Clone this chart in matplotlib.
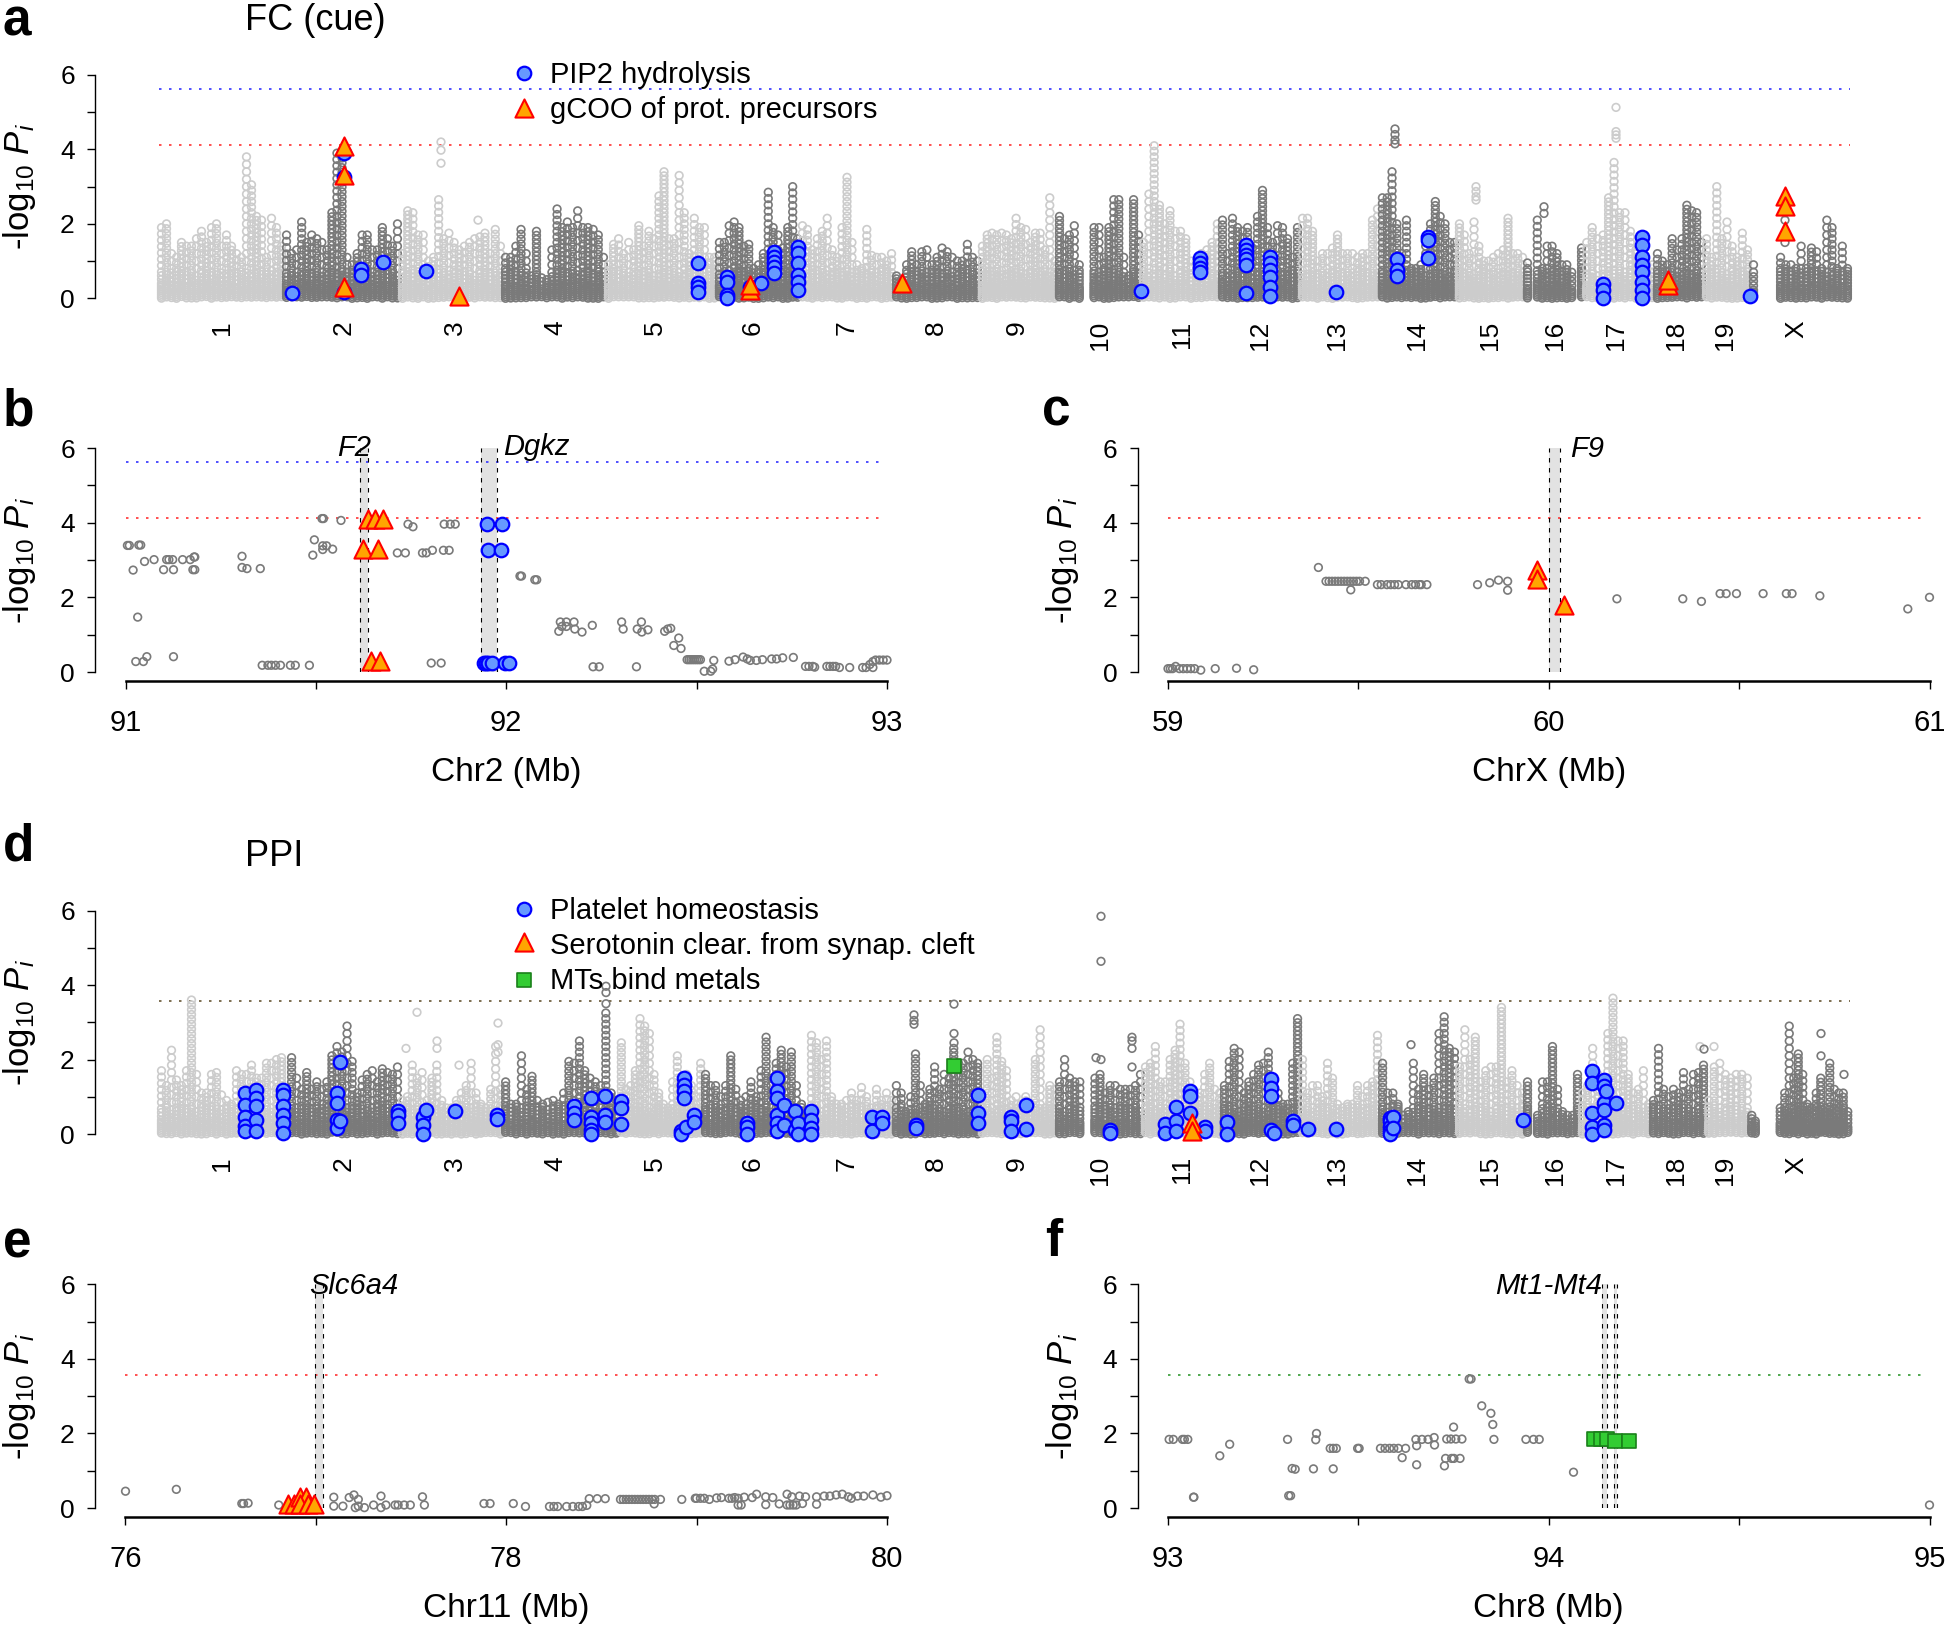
import numpy as np
import matplotlib
matplotlib.use('Agg')
import matplotlib.pyplot as plt

plt.rcParams['font.family'] = ['Liberation Sans', 'DejaVu Sans']
plt.rcParams['mathtext.fontset'] = 'custom'
plt.rcParams['mathtext.rm'] = 'Liberation Sans'
plt.rcParams['mathtext.it'] = 'Liberation Sans:italic'

W, H = 1946, 1628

chr_names = ['1', '2', '3', '4', '5', '6', '7', '8', '9', '10', '11', '12', '13', '14', '15', '16', '17', '18', '19', 'X']
chr_label_x = [222, 344, 455, 555, 655, 753, 847, 936, 1017, 1100, 1182, 1260, 1337, 1417, 1490, 1555, 1616, 1676, 1725, 1796]

# panel a: peak height of each column along every chromosome.
# single SNPs in the solid part can't be read, so rings get stacked under each peak
a_edges = [(159, 284), (284, 400), (400, 503), (503, 606), (606, 717), (717, 800), (800, 894), (894, 980), (980, 1057),
           (1057, 1141), (1141, 1220), (1220, 1300), (1300, 1380), (1380, 1457), (1457, 1525), (1525, 1584),
           (1584, 1655), (1655, 1704), (1704, 1750), (1750, 1757), (1778, 1850)]
a_shade = [0, 1, 0, 1, 0, 1, 0, 1, 0, 1, 0, 1, 0, 1, 0, 1, 0, 1, 0, 1, 1]
a_c1 = [1.9, 2.0, 1.2, 1.1, 1.5, 1.4, 1.4, 1.6, 1.8, 1.5, 1.9, 2.0, 1.4, 1.7, 1.4, 1.2, 1.1, 3.8, 3.05, 2.2, 2.1, 1.1, 2.15, 1.9, 1.4]
a_c2 = [1.7, 1.2, 1.3, 2.05, 1.5, 1.7, 1.6, 1.5, 1.3, 2.3, 3.9, 3.9, 1.1, 0.9, 1.2, 1.7, 1.7, 1.3, 1.3, 1.9, 1.6, 1.4, 2.0]
a_c3 = [1.2, 2.35, 2.3, 1.7, 1.7, 1.0, 1.1, 2.65, 1.6, 1.75, 1.5, 1.3, 1.4, 1.5, 1.6, 1.65, 1.75, 1.2, 1.85, 1.4]
a_c4 = [1.1, 1.1, 1.4, 1.85, 1.2, 0.6, 1.8, 0.55, 0.5, 1.3, 2.4, 1.9, 2.05, 1.9, 2.35, 1.9, 1.9, 1.85, 1.7, 1.1]
a_c5 = [0.9, 1.45, 1.6, 1.2, 1.5, 1.3, 1.95, 1.4, 1.8, 1.6, 2.75, 3.4, 1.6, 1.6, 3.3, 2.3, 1.2, 2.15, 1.9, 1.9, 1.1, 1.1]
a_c6 = [1.5, 1.5, 1.95, 2.05, 1.9, 1.4, 1.45, 0.8, 0.9, 1.2, 2.85, 1.9, 1.7, 1.35, 1.9, 3.0, 1.6]
a_c7 = [1.95, 1.85, 1.3, 1.6, 1.8, 2.15, 1.3, 1.1, 1.9, 3.25, 1.5, 0.9, 0.8, 1.85, 1.15, 1.1, 1.1, 1.0, 1.2]
a_c8 = [0.6, 0.5, 0.9, 1.25, 0.9, 1.25, 1.3, 0.9, 1.1, 1.35, 1.25, 1.1, 1.0, 1.0, 1.45, 1.1, 1.0]
a_c9 = [1.4, 1.7, 1.75, 1.7, 1.75, 1.7, 1.6, 2.15, 1.9, 1.85, 1.5, 1.75, 1.75, 1.3, 2.7, 1.0]
a_c10 = [2.2, 1.6, 1.7, 1.95, 0.9, 0, 0, 1.9, 1.9, 1.1, 1.9, 2.65, 2.65, 1.1, 0.6, 2.65, 1.7]
a_c11 = [1.5, 2.8, 4.1, 2.5, 2.0, 2.35, 1.8, 1.8, 1.6, 1.0, 1.0, 1.2, 1.3, 1.5, 2.0]
a_c12 = [2.1, 1.2, 2.15, 1.9, 1.8, 1.9, 1.35, 2.2, 2.9, 1.9, 1.5, 1.95, 1.9, 1.6, 1.1, 1.9]
a_c13 = [2.15, 2.15, 1.8, 1.0, 1.2, 1.2, 1.35, 1.7, 1.2, 1.2, 1.2, 1.1, 1.2, 1.2, 2.1, 2.4]
a_c14 = [2.7, 2.7, 3.4, 2.0, 1.2, 2.1, 0.8, 0.8, 0.9, 1.6, 2.0, 2.6, 2.2, 2.0, 1.5, 1.5]
a_c15 = [2.0, 1.7, 1.2, 2.05, 1.4, 1.0, 1.0, 1.1, 1.2, 1.3, 2.15, 1.2, 1.2, 1.1]
a_c16 = [0.95, 0, 2.1, 0.8, 1.4, 1.4, 1.2, 0.9, 0.9, 0.7, 0, 1.35]
a_c17 = [1.5, 1.9, 1.6, 1.7, 2.7, 3.65, 2.3, 2.3, 1.8, 1.3, 1.0, 0.9, 0.9]
a_c18 = [1.2, 1.0, 0.9, 1.6, 1.3, 1.6, 2.5, 2.35, 2.3, 1.5]
a_c19 = [1.6, 1.1, 3.0, 1.6, 2.05, 1.4, 1.1, 1.75, 1.3]
a_c19b = [0.9]
a_cX = [1.1, 0.9, 0.9, 0.8, 1.4, 0.8, 1.35, 1.25, 0.8, 2.1, 1.9, 0.8, 1.4, 0.8]
a_heights = [a_c1, a_c2, a_c3, a_c4, a_c5, a_c6, a_c7, a_c8, a_c9, a_c10, a_c11, a_c12, a_c13, a_c14, a_c15, a_c16,
             a_c17, a_c18, a_c19, a_c19b, a_cX]

# points standing clear of the columns
a_light_x = [441, 441, 441, 478, 1476, 1476, 1476, 1476, 1616, 1616, 1616, 1616]
a_light_y = [4.2, 3.98, 3.63, 2.1, 3.0, 2.87, 2.73, 2.64, 5.13, 4.48, 4.39, 4.3]
a_dark_x = [1395, 1395, 1395, 1395, 1544, 1544, 1785, 1785, 1785]
a_dark_y = [4.55, 4.4, 4.25, 4.15, 2.46, 2.28, 2.3, 2.1, 1.5]

a_blue_x = [292, 344, 361, 383, 426, 698, 727, 750, 761, 774, 798, 1141, 1200, 1246, 1270, 1336, 1397, 1428, 1603, 1642, 1750]
a_blue_y = [[0.15], [3.91, 3.27, 0.17], [0.78, 0.63], [0.98], [0.74], [0.94, 0.40, 0.31, 0.18], [0.58, 0.45, 0.09, 0.0],
            [0.3], [0.42], [1.25, 1.12, 0.98, 0.85, 0.67], [1.39, 1.21, 0.94, 0.63, 0.45, 0.22], [0.2],
            [1.07, 0.94, 0.81, 0.72], [1.43, 1.3, 1.16, 1.05, 0.9, 0.13], [1.12, 0.94, 0.76, 0.58, 0.31, 0.06], [0.18],
            [1.05, 0.76, 0.6], [1.66, 1.57, 1.07], [0.38, 0.22, 0.0], [1.66, 1.43, 1.12, 0.9, 0.72, 0.45, 0.22, 0.0], [0.05]]
a_tri_x = [344, 344, 344, 459, 750, 750, 902, 1668, 1668, 1785, 1785, 1785]
a_tri_y = [4.1, 3.31, 0.3, 0.06, 0.22, 0.36, 0.4, 0.36, 0.5, 2.75, 2.48, 1.81]

# panel d
d_edges = [(159, 284), (284, 400), (400, 503), (503, 619), (619, 703), (703, 809), (809, 894), (894, 980), (980, 1057),
           (1057, 1143), (1143, 1222), (1222, 1300), (1300, 1380), (1380, 1457), (1457, 1525), (1525, 1580),
           (1580, 1651), (1651, 1706), (1706, 1750), (1750, 1757), (1778, 1850)]
d_c1 = [1.7, 1.3, 2.25, 1.45, 1.3, 1.7, 3.6, 1.6, 1.1, 1.1, 1.6, 1.65, 1.05, 0.9, 0.8, 1.7, 1.6, 1.6, 1.85, 1.5, 1.5, 1.9, 1.9, 2.0, 2.05]
d_c2 = [1.15, 2.05, 1.5, 1.2, 1.65, 1.2, 1.4, 1.2, 1.4, 2.1, 2.35, 2.2, 2.9, 1.95, 1.1, 1.45, 1.6, 1.7, 1.4, 1.75, 1.65, 1.6, 1.8]
d_c3 = [0.9, 1.0, 1.85, 1.5, 1.65, 0.9, 1.5, 1.85, 0.9, 0.7, 0.7, 0.9, 1.1, 1.3, 1.9, 1.1, 0.8, 0.7, 1.2, 2.35, 1.2]
d_c4 = [1.4, 0.8, 0.8, 2.1, 1.2, 1.55, 0.9, 0.8, 0.85, 0.9, 0.8, 1.1, 1.95, 1.9, 2.5, 1.7, 1.5, 1.4, 1.3, 3.25, 1.1, 0.9]
d_c5 = [2.45, 1.2, 1.3, 1.7, 3.1, 2.9, 2.7, 1.6, 1.1, 0.8, 0.7, 1.4, 2.1, 1.4, 1.6, 1.3, 1.0, 1.9]
d_c6 = [1.6, 1.3, 1.3, 1.0, 1.3, 2.1, 1.2, 0.9, 1.0, 1.4, 1.0, 1.7, 2.6, 1.5, 1.9, 2.25, 1.8, 2.2, 1.3, 0.8, 0.6]
d_c7 = [2.65, 2.45, 2.0, 2.5, 1.0, 0.8, 0.8, 0.9, 1.1, 0.9, 1.25, 1.0, 0.7, 1.2, 0.9, 1.1, 0.9]
d_c8 = [1.3, 1.1, 0.6, 1.0, 2.15, 1.3, 0.8, 1.2, 1.8, 1.2, 1.6, 1.5, 2.3, 1.9, 1.9, 2.2, 2.0, 1.9]
d_c9 = [0.9, 2.0, 1.5, 2.6, 1.95, 1.7, 0.9, 1.0, 0.8, 1.0, 0.8, 2.0, 2.8, 0.7, 1.3, 1.2]
d_c10 = [1.4, 2.0, 1.5, 1.4, 1.4, 0, 0, 1.5, 1.6, 1.1, 1.3, 1.3, 1.2, 1.2, 1.2, 1.3, 1.6]
d_c11 = [1.8, 1.9, 2.35, 1.4, 1.4, 2.0, 2.25, 2.95, 1.9, 1.4, 1.0, 1.1, 1.6, 1.9, 1.2, 1.1]
d_c12 = [1.3, 1.95, 2.3, 2.2, 1.1, 1.4, 1.6, 1.85, 1.9, 2.2, 1.1, 1.1, 0.8, 0.8, 1.9, 3.1]
d_c13 = [2.0, 1.1, 1.3, 1.3, 1.0, 1.9, 1.5, 0.8, 0.7, 0.8, 0.8, 1.3, 1.0, 1.3, 1.4, 2.65]
d_c14 = [1.9, 1.1, 1.1, 0.8, 0.5, 0.6, 1.9, 1.2, 1.6, 1.2, 1.5, 2.7, 3.15, 2.3, 2.2]
d_c15 = [1.8, 2.8, 2.0, 2.6, 1.4, 1.7, 1.8, 1.8, 3.4, 1.4, 1.7, 1.3, 1.1]
d_c16 = [1.4, 0, 0.5, 1.4, 1.4, 2.35, 1.2, 0.6, 0.5, 0.5, 1.6]
d_c17 = [1.1, 1.3, 2.3, 1.6, 1.3, 2.7, 3.65, 2.5, 2.5, 1.6, 1.1, 1.2, 1.7, 0.8]
d_c18 = [0.9, 2.3, 1.2, 1.0, 1.2, 1.1, 1.65, 1.2, 1.6, 1.65, 1.85]
d_c19 = [0.9, 1.8, 1.9, 1.6, 1.5, 1.6, 1.6, 1.5]
d_c19b = [0.5, 0.35]
d_cX = [0.7, 1.1, 2.9, 1.5, 2.15, 1.6, 0.8, 0.7, 1.1, 1.5, 0.7, 1.9, 1.2, 1.1, 1.1, 0.6]
d_heights = [d_c1, d_c2, d_c3, d_c4, d_c5, d_c6, d_c7, d_c8, d_c9, d_c10, d_c11, d_c12, d_c13, d_c14, d_c15, d_c16,
             d_c17, d_c18, d_c19, d_c19b, d_cX]
d_light_x = [417, 406, 437, 437, 459, 498, 498, 498, 1714, 1700]
d_light_y = [3.27, 2.3, 2.5, 2.3, 1.85, 2.98, 2.4, 2.2, 2.35, 2.35]
d_dark_x = [1101, 1101, 606, 606, 606, 954, 954, 954, 914, 914, 914, 1132, 1132, 1132, 1132, 1096, 1101, 1821, 1821, 1844, 1704, 1411]
d_dark_y = [5.85, 4.64, 3.97, 3.8, 3.5, 3.49, 2.7, 2.45, 3.2, 3.05, 2.95, 2.6, 2.5, 2.3, 1.8, 2.05, 2.0, 2.7, 2.1, 1.6, 2.28, 2.4]

d_blue_x = [245, 256, 283, 337, 340, 398, 423, 426, 455, 497, 574, 591, 605, 621, 684, 681, 686, 694, 747, 777, 784, 795,
            798, 811, 872, 882, 916, 978, 1011, 1026, 1110, 1165, 1176, 1190, 1205, 1227, 1271, 1274, 1293, 1308, 1336,
            1390, 1393, 1523, 1592, 1604, 1606, 1616]
d_blue_y = [[1.10, 0.79, 0.47, 0.21, 0.07], [1.19, 0.97, 0.74, 0.38, 0.07], [1.19, 1.06, 0.74, 0.5, 0.3, 0.03],
            [1.1, 0.83, 0.38, 0.16], [1.93, 0.36], [0.61, 0.52, 0.3], [0.47, 0.25, 0.0], [0.65], [0.63], [0.52, 0.4],
            [0.74, 0.56, 0.38], [0.97, 0.47, 0.3, 0.12, 0.0], [1.03, 0.52, 0.31], [0.88, 0.7, 0.27], [1.5, 1.32, 1.15, 0.97],
            [0.07, 0.0], [0.2], [0.52, 0.31], [0.3, 0.2, 0.0], [1.5, 1.15, 0.97, 0.52, 0.3, 0.07], [0.79, 0.25], [0.63, 0.12],
            [0.3, 0.0], [0.61, 0.38, 0.16, 0.0], [0.47, 0.07], [0.47, 0.3], [0.25, 0.16], [1.06, 0.56, 0.3],
            [0.47, 0.34, 0.07], [0.77, 0.14], [0.12, 0.03], [0.27, 0.03], [0.72, 0.34, 0.07], [1.15, 1.01, 0.56], [0.2, 0.09],
            [0.31, 0.01], [1.48, 1.24, 1.01, 0.12], [0.04], [0.34, 0.23], [0.14], [0.14], [0.43, 0.34, 0.2, 0.07, 0.0],
            [0.47, 0.16], [0.38], [1.7, 1.37, 0.56, 0.2, 0.0], [1.46, 1.28, 0.83, 0.65, 0.25, 0.12], [1.15], [0.83]]
d_tri_x = [1192, 1192]
d_tri_y = [0.3, 0.09]
d_sq_x = [954]
d_sq_y = [1.84]

# panel b
b_x = [91.005, 91.01, 91.035, 91.04, 91.02, 91.05, 91.075, 91.10, 91.108, 91.114, 91.124, 91.126, 91.15, 91.17, 91.18, 91.182,
       91.177, 91.182, 91.306, 91.306, 91.319, 91.354, 91.032, 91.027, 91.047, 91.056, 91.126, 91.359, 91.374, 91.383, 91.394,
       91.407, 91.433, 91.446, 91.483, 91.516, 91.52, 91.566, 91.496, 91.518, 91.528, 91.544, 91.518, 91.492, 91.714, 91.735,
       91.78, 91.79, 91.806, 91.835, 91.85, 91.742, 91.755, 91.837, 91.853, 91.866, 91.803, 91.829, 92.036, 92.04, 92.075, 92.08,
       92.138, 92.142, 92.146, 92.158, 92.158, 92.178, 92.18, 92.199, 92.226, 92.303, 92.307, 92.355, 92.344, 92.356, 92.372,
       92.416, 92.424, 92.432, 92.453, 92.44, 92.459, 92.228, 92.244, 92.342, 92.475, 92.48, 92.485, 92.49, 92.495, 92.5, 92.505,
       92.51, 92.52, 92.537, 92.542, 92.545, 92.585, 92.601, 92.622, 92.633, 92.641, 92.657, 92.673, 92.697, 92.71, 92.726, 92.754,
       92.786, 92.795, 92.805, 92.81, 92.842, 92.85, 92.858, 92.865, 92.875, 92.902, 92.936, 92.945, 92.963, 92.955, 92.963, 92.97,
       92.98, 92.99, 93.0]
b_y = [3.39, 3.39, 3.40, 3.40, 2.73, 2.96, 3.01, 2.74, 3.01, 3.01, 3.01, 2.74, 3.01, 3.01, 3.08, 3.08,
       2.74, 2.74, 3.10, 2.80, 2.77, 2.77, 1.47, 0.28, 0.28, 0.41, 0.41, 0.18, 0.18, 0.18, 0.18,
       0.18, 0.18, 0.18, 0.18, 4.11, 4.11, 4.06, 3.54, 3.38, 3.38, 3.29, 3.28, 3.13, 3.19, 3.19,
       3.19, 3.19, 3.26, 3.26, 3.26, 3.96, 3.89, 3.96, 3.96, 3.96, 0.24, 0.24, 2.57, 2.57, 2.47, 2.47,
       1.09, 1.34, 1.22, 1.34, 1.22, 1.34, 1.15, 1.07, 1.25, 1.34, 1.15, 1.34, 1.15, 1.07, 1.13,
       1.09, 1.15, 1.17, 0.91, 0.71, 0.63, 0.14, 0.14, 0.14, 0.33, 0.33, 0.33, 0.33, 0.33, 0.33, 0.33,
       0.33, 0.02, 0.02, 0.08, 0.31, 0.29, 0.33, 0.40, 0.35, 0.31, 0.31, 0.33, 0.35, 0.35, 0.38, 0.39,
       0.15, 0.15, 0.15, 0.13, 0.15, 0.15, 0.15, 0.15, 0.12, 0.12, 0.12, 0.12, 0.12, 0.2, 0.28, 0.32,
       0.32, 0.32, 0.32]
b_tri_x = [91.636, 91.656, 91.676, 91.624, 91.663, 91.644, 91.668]
b_tri_y = [4.1, 4.1, 4.1, 3.3, 3.3, 0.3, 0.3]
b_blue_x = [91.949, 91.99, 91.953, 91.985, 91.941, 91.947, 91.953, 91.962, 91.998, 92.006]
b_blue_y = [3.97, 3.97, 3.26, 3.26, 0.24, 0.24, 0.24, 0.24, 0.24, 0.24]

# panel c
c_x = [59.395, 59.415, 59.423, 59.431, 59.439, 59.447, 59.455, 59.463, 59.471, 59.479, 59.487, 59.495, 59.503, 59.518, 59.48,
       59.55, 59.56, 59.575, 59.585, 59.595, 59.605, 59.625, 59.64, 59.65, 59.66, 59.665, 59.68, 59.813, 59.845, 59.868, 59.892,
       59.892, 60.179, 60.352, 60.401, 60.45, 60.466, 60.493, 60.563, 60.624, 60.639, 60.712, 60.943, 61.0, 59.0, 59.006, 59.012,
       59.02, 59.03, 59.04, 59.05, 59.06, 59.07, 59.086, 59.124, 59.18, 59.225]
c_y = [2.80, 2.43, 2.43, 2.43, 2.43, 2.43, 2.43, 2.43, 2.43, 2.43, 2.43, 2.43, 2.43, 2.43, 2.2,
       2.34, 2.34, 2.34, 2.34, 2.34, 2.34, 2.34, 2.34, 2.34, 2.34, 2.34, 2.34, 2.34, 2.39, 2.46, 2.43,
       2.19, 1.96, 1.96, 1.89, 2.10, 2.10, 2.10, 2.10, 2.10, 2.10, 2.04, 1.69, 2.0, 0.09, 0.09, 0.09,
       0.15, 0.09, 0.09, 0.09, 0.09, 0.09, 0.05, 0.09, 0.1, 0.06]
c_tri_x = [59.968, 59.968, 60.041]
c_tri_y = [2.74, 2.5, 1.8]

# panel e
e_x = [76.0, 76.267, 76.611, 76.62, 76.644, 76.805, 77.094, 77.175, 77.2, 77.223, 77.094, 77.142, 77.207, 77.255, 77.223, 77.342,
       77.303, 77.342, 77.368, 77.416, 77.432, 77.464, 77.496, 77.56, 77.57, 77.883, 77.915, 78.037, 78.101, 78.227, 78.25, 78.27,
       78.317, 78.35, 78.38, 78.4, 78.423, 78.436, 78.478, 78.52, 78.6, 78.615, 78.63, 78.645, 78.66, 78.675, 78.69, 78.705, 78.72,
       78.735, 78.75, 78.765, 78.78, 78.81, 78.777, 78.922, 78.993, 79.0, 79.02, 79.04, 79.067, 79.105, 79.13, 79.17, 79.186, 79.2,
       79.218, 79.25, 79.218, 79.234, 79.292, 79.315, 79.363, 79.4, 79.363, 79.434, 79.475, 79.49, 79.507, 79.523, 79.556, 79.475,
       79.50, 79.54, 79.572, 79.63, 79.63, 79.67, 79.70, 79.733, 79.765, 79.797, 79.813, 79.845, 79.878, 79.926, 79.968, 80.0]
e_y = [0.45, 0.5, 0.12, 0.12, 0.13, 0.08, 0.29, 0.28, 0.35, 0.23, 0.05, 0.05, 0.01, 0.01, 0.05, 0.32,
       0.08, 0.01, 0.08, 0.08, 0.08, 0.08, 0.08, 0.30, 0.08, 0.12, 0.12, 0.12, 0.04, 0.04, 0.04, 0.04,
       0.04, 0.04, 0.04, 0.04, 0.07, 0.25, 0.25, 0.25, 0.23, 0.23, 0.23, 0.23, 0.23, 0.23, 0.23, 0.23, 0.23,
       0.23, 0.23, 0.23, 0.23, 0.23, 0.11, 0.23, 0.26, 0.26, 0.26, 0.26, 0.23, 0.27, 0.28, 0.26, 0.26, 0.28,
       0.26, 0.29, 0.08, 0.08, 0.28, 0.37, 0.30, 0.28, 0.09, 0.11, 0.08, 0.08, 0.08, 0.08, 0.12, 0.37,
       0.30, 0.32, 0.30, 0.10, 0.30, 0.32, 0.32, 0.35, 0.37, 0.30, 0.26, 0.32, 0.32, 0.35, 0.29, 0.33]
e_tri_x = [76.853, 76.885, 76.917, 76.95, 76.917, 76.96, 76.988]
e_tri_y = [0.1, 0.1, 0.3, 0.3, 0.1, 0.1, 0.1]

# panel f
f_x = [93.003, 93.014, 93.038, 93.043, 93.052, 93.136, 93.162, 93.067, 93.068, 93.314, 93.317, 93.322, 93.326, 93.334, 93.382,
       93.39, 93.388, 93.434, 93.426, 93.434, 93.442, 93.498, 93.502, 93.558, 93.57, 93.582, 93.593, 93.605, 93.624, 93.615, 93.651,
       93.667, 93.683, 93.653, 93.653, 93.699, 93.70, 93.732, 93.743, 93.756, 93.772, 93.726, 93.729, 93.745, 93.751, 93.767, 93.75,
       93.791, 93.796, 93.824, 93.848, 93.853, 93.856, 93.94, 93.96, 93.975, 94.065, 95.0]
f_y = [1.84, 1.84, 1.84, 1.84, 1.84, 1.40, 1.71, 0.29, 0.29, 1.84, 0.33, 0.33, 1.06, 1.04, 1.05,
       2.0, 1.83, 1.05, 1.6, 1.6, 1.6, 1.6, 1.6, 1.6, 1.6, 1.6, 1.6, 1.6, 1.6, 1.35, 1.84,
       1.84, 1.84, 1.67, 1.16, 1.89, 1.69, 1.85, 1.85, 1.85, 1.85, 1.13, 1.33, 1.33, 1.33, 1.33, 2.17,
       3.46, 3.46, 2.74, 2.54, 2.24, 1.84, 1.84, 1.84, 1.84, 0.96, 0.08]
f_sq_x = [94.119, 94.136, 94.152, 94.174, 94.212]
f_sq_y = [1.84, 1.84, 1.84, 1.8, 1.8]

RED = '#ff3333'
BLUE = '#3333ff'
DOT = (0, (1.5, 4.5))
LIGHT = '#cccccc'
DARK = '#7a7a7a'
# spacing of the rings in the loose part of a column, cycled so rows don't line up
STACK_STEPS = [0.11, 0.17, 0.13, 0.2, 0.15]


def make_axes(fig, left, right, y6, y0):
    ax = fig.add_axes([left / W, 1 - y0 / H, (right - left) / W, (y0 - y6) / H])
    ax.patch.set_alpha(0)
    for s in ['top', 'right']:
        ax.spines[s].set_visible(False)
    ax.set_ylim(0, 6)
    ax.set_yticks(range(7))
    ax.set_yticklabels(['0', '', '2', '', '4', '', '6'], fontsize=19)
    ax.tick_params(axis='y', length=5.5, width=1, pad=9)
    ax.spines['left'].set_linewidth(1)
    fig.text((left - 75) / W, 1 - (y0 + y6) / 2 / H, r'-log$_{\mathrm{10}}$ $\mathit{P}_{\mathit{i}}$',
             rotation=90, fontsize=25, ha='center', va='center')
    return ax


def rings(ax, x, y, color=DARK):
    ax.scatter(x, y, s=30, facecolors='none', edgecolors=color, linewidths=1.2, clip_on=False, zorder=3)


def blue(ax, x, y):
    ax.scatter(x, y, s=95, facecolors='#6699ff', edgecolors='#0000ff', linewidths=1.6, clip_on=False, zorder=5)


def tri(ax, x, y):
    ax.scatter(x, y, marker='^', s=170, facecolors='#ffa500', edgecolors='#ff0000', linewidths=1.5, clip_on=False, zorder=6)


def square(ax, x, y):
    ax.scatter(x, y, marker='s', s=100, facecolors='#33cc33', edgecolors='#1a801a', linewidths=1.2, clip_on=False, zorder=6)


def manhattan(ax, edges, heights):
    # stack rings below each read peak: loose near the top, packed near the base
    n = 0
    for (start, end), hs, shade in zip(edges, heights, a_shade):
        col = DARK if shade else LIGHT
        xs = start + (np.arange(len(hs)) + 0.5) * (end - start) / len(hs)
        px, py = [], []
        for x, h in zip(xs, hs):
            n += 1
            if h <= 0:
                continue
            y = h
            step = STACK_STEPS[n % len(STACK_STEPS)]
            while y > 0.8:
                px.append(x)
                py.append(y)
                y -= step
            solid = 0.22 + 0.12 * min(h, 2)
            while y > solid:
                px.append(x)
                py.append(y)
                y -= step * 0.6
            while y >= 0:
                px.append(x)
                py.append(y)
                y -= 0.05
        rings(ax, px, py, col)


def genome_panel(fig, y6, y0, edges, heights, title, title_y):
    ax = make_axes(fig, 95, 1860, y6, y0)
    ax.set_xlim(95, 1860)
    ax.spines['bottom'].set_visible(False)
    ax.set_xticks([])
    manhattan(ax, edges, heights)
    per_unit = (y0 - y6) / 6
    for name, x in zip(chr_names, chr_label_x):
        ax.text(x, -22 / per_unit, name, rotation=90, ha='center', va='top', fontsize=19)
    fig.text(245 / W, 1 - title_y / H, title, fontsize=26, ha='left', va='center')
    return ax


def zoom_panel(fig, left, lo, hi, y6, y0, ticks, labels, xlabel):
    # left is where the y axis sits, ticks start 30 px to its right and run 761 px
    x_per_px = (hi - lo) / 761.5
    right = left + 30.5 + 761.5
    ax = make_axes(fig, left, right + 20, y6, y0)
    ax.set_xlim(lo - 30.5 * x_per_px, hi + 20 * x_per_px)
    ax.spines['bottom'].set_position(('outward', 6.3))
    ax.spines['bottom'].set_bounds(lo, hi)
    ax.spines['bottom'].set_linewidth(1.8)
    ax.set_xticks(ticks)
    ax.set_xticklabels(labels, fontsize=21)
    ax.tick_params(axis='x', length=6, width=1, pad=14)
    ax.set_xlabel(xlabel, fontsize=24, va='center')
    ax.xaxis.set_label_coords((30.5 + 761.5 / 2) / (right + 20 - left), -100 / (y0 - y6))
    return ax


def band(ax, x0, x1, top=6):
    ax.fill_between([x0, x1], 0, top, color='#e2e2e2', lw=0, zorder=1)
    ax.plot([x0, x0], [0, top], color='black', lw=0.8, ls=(0, (4, 5)), zorder=2)
    ax.plot([x1, x1], [0, top], color='black', lw=0.8, ls=(0, (4, 5)), zorder=2)


def hline(ax, y, x0, x1, color):
    ax.plot([x0, x1], [y, y], color=color, lw=1.2, ls=DOT, zorder=2)


fig = plt.figure(figsize=(W / 100, H / 100), dpi=100)

# a
ax = genome_panel(fig, 75, 298.3, a_edges, a_heights, 'FC (cue)', 20)
hline(ax, 5.63, 159, 1850, BLUE)
hline(ax, 4.12, 159, 1850, RED)
rings(ax, a_light_x, a_light_y, LIGHT)
rings(ax, a_dark_x, a_dark_y, DARK)
blue(ax, [x for x, ys in zip(a_blue_x, a_blue_y) for _ in ys], [y for ys in a_blue_y for y in ys])
tri(ax, a_tri_x, a_tri_y)
blue(ax, [524], [(298.3 - 73) / 37.2])
tri(ax, [524], [(298.3 - 108) / 37.2])
ax.text(550, (298.3 - 75.5) / 37.2, 'PIP2 hydrolysis', fontsize=21, va='center')
ax.text(550, (298.3 - 110.5) / 37.2, 'gCOO of prot. precursors', fontsize=21, va='center')

# b
ax = zoom_panel(fig, 95, 91, 93, 448, 672, [91, 91.5, 92, 92.5, 93], ['91', '', '92', '', '93'], 'Chr2 (Mb)')
hline(ax, 5.63, 91, 92.99, BLUE)
hline(ax, 4.12, 91, 92.99, RED)
band(ax, 91.615, 91.636)
band(ax, 91.933, 91.975)
rings(ax, b_x, b_y)
blue(ax, b_blue_x, b_blue_y)
tri(ax, b_tri_x, b_tri_y)
ax.text(91.6, 6.0, 'F2', fontsize=21, style='italic', ha='center', va='center')
ax.text(91.993, 6.02, 'Dgkz', fontsize=21, style='italic', ha='left', va='center')

# c
ax = zoom_panel(fig, 1137.5, 59, 61, 448, 672, [59, 59.5, 60, 60.5, 61], ['59', '', '60', '', '61'], 'ChrX (Mb)')
hline(ax, 4.12, 59, 60.99, RED)
band(ax, 60.0, 60.03)
rings(ax, c_x, c_y)
tri(ax, c_tri_x, c_tri_y)
ax.text(60.1, 5.98, 'F9', fontsize=21, style='italic', ha='center', va='center')

# d
ax = genome_panel(fig, 910.7, 1134, d_edges, d_heights, 'PPI', 857)
hline(ax, 6.26, 159, 1850, BLUE)
hline(ax, 3.58, 159, 1850, '#665533')
rings(ax, d_light_x, d_light_y, LIGHT)
rings(ax, d_dark_x, d_dark_y, DARK)
blue(ax, [x for x, ys in zip(d_blue_x, d_blue_y) for _ in ys], [y for ys in d_blue_y for y in ys])
tri(ax, d_tri_x, d_tri_y)
square(ax, d_sq_x, d_sq_y)
blue(ax, [524], [(1134 - 909) / 37.2])
tri(ax, [524], [(1134 - 942) / 37.2])
square(ax, [524], [(1134 - 980) / 37.2])
ax.text(550, (1134 - 911) / 37.2, 'Platelet homeostasis', fontsize=21, va='center')
ax.text(550, (1134 - 946) / 37.2, 'Serotonin clear. from synap. cleft', fontsize=21, va='center')
ax.text(550, (1134 - 981) / 37.2, 'MTs bind metals', fontsize=21, va='center')

# e
ax = zoom_panel(fig, 95, 76, 80, 1284.3, 1508, [76, 77, 78, 79, 80], ['76', '', '78', '', '80'], 'Chr11 (Mb)')
hline(ax, 3.58, 76, 79.98, RED)
band(ax, 76.998, 77.036)
rings(ax, e_x, e_y)
tri(ax, e_tri_x, e_tri_y)
ax.text(77.2, 5.96, 'Slc6a4', fontsize=21, style='italic', ha='center', va='center')

# f
ax = zoom_panel(fig, 1137.5, 93, 95, 1284.3, 1508, [93, 93.5, 94, 94.5, 95], ['93', '', '94', '', '95'], 'Chr8 (Mb)')
hline(ax, 3.58, 93, 94.99, '#339933')
band(ax, 94.14, 94.152)
band(ax, 94.171, 94.179)
rings(ax, f_x, f_y)
square(ax, f_sq_x, f_sq_y)
ax.text(94.0, 5.96, 'Mt1-Mt4', fontsize=21, style='italic', ha='center', va='center')

# panel letters, baselines
for letter, x, y in [('a', 3, 35), ('b', 3, 425), ('c', 1042, 425), ('d', 3, 861), ('e', 3, 1257), ('f', 1045, 1256)]:
    fig.text(x / W, 1 - y / H, letter, fontsize=37, fontweight='bold', ha='left', va='baseline')

fig.savefig('out.png', dpi=100)
